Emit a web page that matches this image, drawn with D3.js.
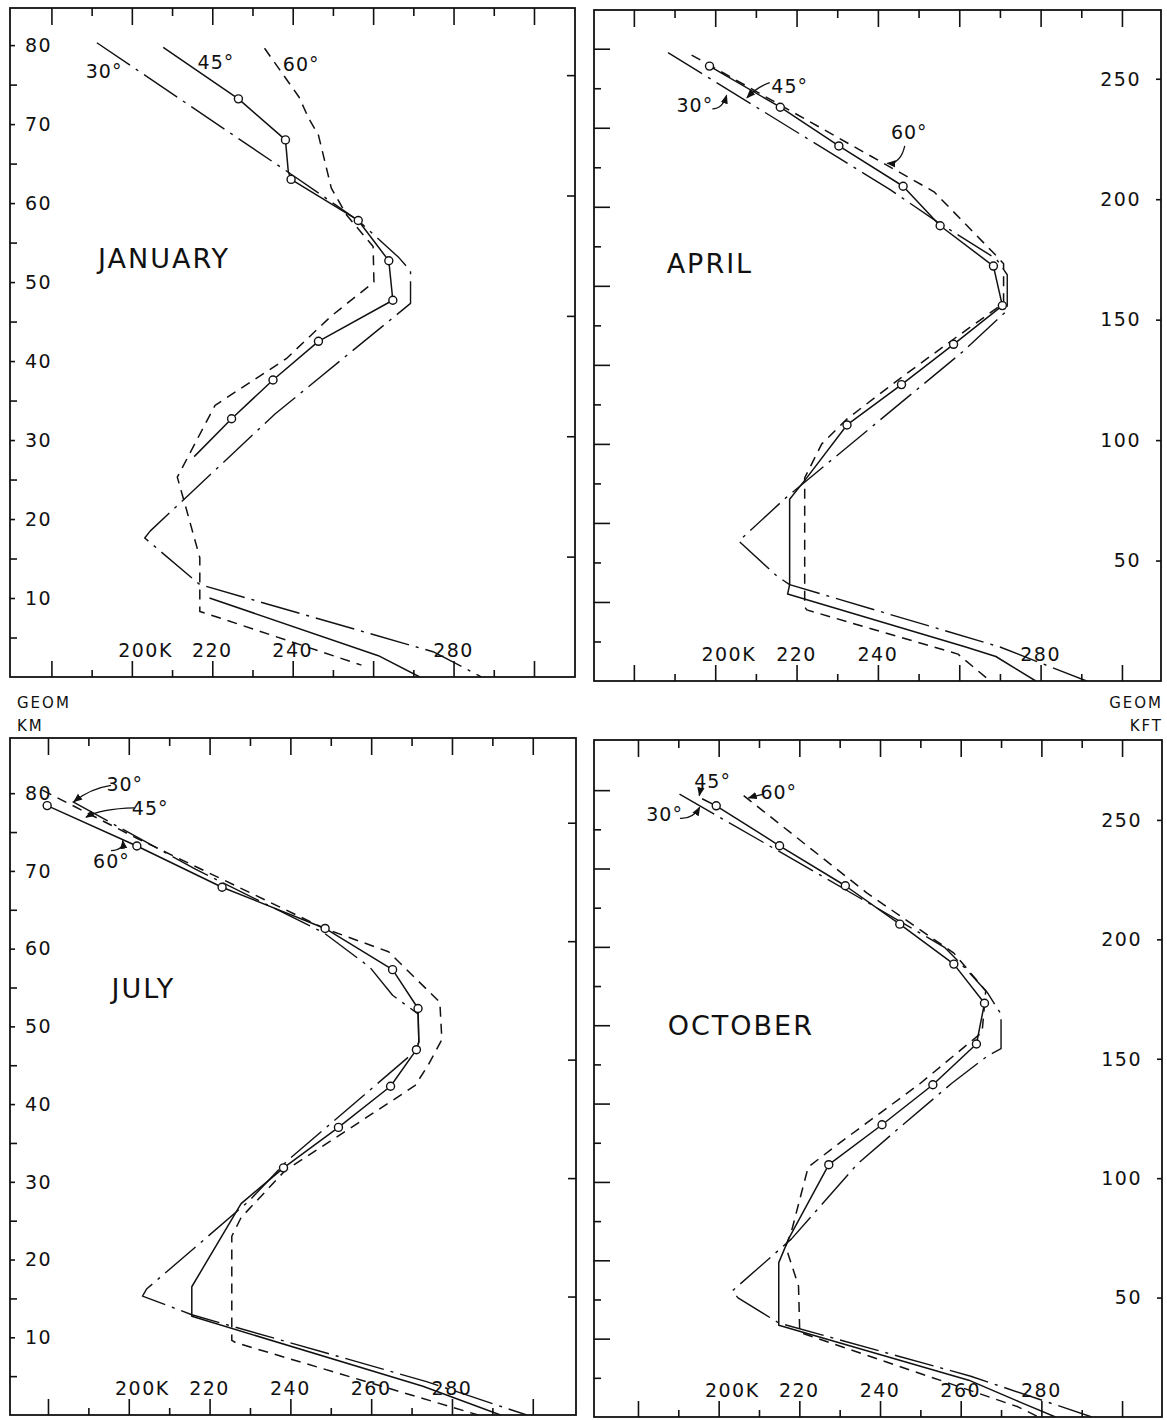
<!DOCTYPE html>
<html>
<head>
<meta charset="utf-8">
<script src="https://cdn.jsdelivr.net/npm/d3@7"></script>
<style>
  body { margin: 0; background: #fff; }
  svg { display: block; }
  text { font-family: "DejaVu Sans", "Liberation Sans", sans-serif; fill: #111; }
</style>
</head>
<body>
<svg id="chart" width="1167" height="1420"></svg>
<script>
// Temperature (K) against geometric altitude (km) for 30, 45 and 60 deg N.
// Each point is [T, km] ; a third value of 1 marks an open circle. null = break in the line.
const jan30 = [[191.3,80.3],[238.9,63.9],[256.3,57.8],[266.4,53.1],[269.3,51.4],[269.3,47.3],[235.6,33.3],[204.6,18.5],[203.2,17.6],[216.9,11.7],[274.9,3.2],[287.0,0]];
const jan45 = [[207.8,79.7],[226.5,73.2,1],[238.2,68.0,1],[238.9,64.0],[239.6,63.0,1],[256.3,57.8,1],[263.9,52.7,1],[264.9,47.7,1],[246.4,42.5,1],[235.1,37.6,1],[224.8,32.7,1],[215.5,27.9],null,[219.3,10.0],[261.3,2.7],[271.6,0]];
const jan60 = [[233.0,79.6],[241.6,73.4],[244.0,70.7],[246.4,68.6],[249.6,61.9],[253.4,58.5],[260.0,54.5],[260.2,50.0],[249.6,45.7],[238.4,40.3],[220.7,34.4],[211.3,25.3],[213.2,21.9],[216.9,15.1],[216.9,8.3],[223.5,7.2],[257.1,1.5]];

const apr30 = [[188.4,79.5],[242.9,62.2],[254.6,58.1],[269.1,53.4],[271.8,51.4],[271.8,46.9],[260.7,41.6],[217.4,23.2],[205.8,17.7],[215.1,13.3],[218.3,12.2],[270.0,4.3],[291.3,0]];
const apr45 = [[198.6,77.8,1],[216.0,72.6,1],[230.4,67.7,1],[246.2,62.6,1],[255.3,57.6,1],[268.4,52.5,1],[270.6,47.5,1],[258.6,42.6,1],[245.8,37.5,1],[232.4,32.4,1],[222.5,25.7],[218.3,23.0],[218.3,12.2],[217.8,11.0],[261.6,4.3],[269.0,3.1],[278.8,0]];
const apr60 = [[194.2,79.2],[253.8,61.9],[269.5,53.6],[270.9,52.8],[270.9,47.8],[259.0,43.4],[245.5,38.3],[232.5,33.2],[226.2,30.0],[222.0,25.7],[222.0,9.4],[222.5,9.0],[259.7,3.4],[267.6,0]];

const jul30 = [[186.1,78.9],[216.6,70.2],[248.4,62.0],[259.7,57.6],[265.3,54.0],[271.6,51.6],[271.8,48.0],[270.9,46.8],[239.0,32.6],[229.7,27.5],[204.4,16.2],[203.4,15.3],[215.6,12.9],[273.7,4.3],[298.5,0]];
const jul45 = [[179.8,78.4,1],[202.0,73.2,1],[223.1,67.9,1],[248.6,62.6,1],[265.3,57.3,1],[271.6,52.3,1],[271.8,48.0],[271.2,47.0,1],[264.8,42.3,1],[251.9,37.0,1],[238.3,31.8,1],[227.8,27.2],[215.6,16.5],[215.6,12.7],[272.8,3.7],[292.0,0]];
const jul60 = [[178.6,80.4],[202.0,74.2],[248.4,62.6],[264.3,59.6],[277.0,53.1],[277.5,48.3],[274.2,45.1],[270.9,42.4],[264.8,40.3],[238.6,31.4],[227.8,25.4],[225.5,23.0],[225.5,9.6],[226.5,9.3],[286.5,0]];

const oct30 = [[190.3,79.5],[234.8,66.3],[256.1,59.9],[262.0,56.8],[266.7,54.1],[270.0,51.4],[270.0,47.0],[266.7,46.1],[257.8,42.6],[245.0,37.0],[234.4,32.3],[218.0,22.7],[203.4,16.1],[204.8,15.2],[214.9,12.0],[262.5,5.2],[292.5,0]];
const oct45 = [[195.9,78.9],[199.4,78.0,1],[215.1,72.9,1],[231.4,67.8,1],[244.9,62.9,1],[258.3,57.8,1],[265.9,52.8,1],[263.9,47.6,1],[253.1,42.4,1],[240.5,37.3,1],[227.3,32.2,1],[217.5,22.9],[214.9,19.7],[214.9,11.7],[262.0,4.7],[274.7,1.9],[283.5,0]];
const oct60 = [[206.2,79.3],[236.7,66.9],[258.3,59.2],[266.2,54.4],[265.3,49.1],[249.8,42.5],[231.1,35.4],[222.2,31.9],[218.0,23.6],[216.6,21.8],[219.8,16.7],[220.1,10.8],[274.2,1.3],[279.3,0]];

// axis ticks and labels
const tempTicks = d3.range(180, 301, 10);
const kmTicks = d3.range(5, 81, 5);
const kmLabels = [10, 20, 30, 40, 50, 60, 70, 80];
const kftTicks = [50, 100, 150, 200, 250];
const janTempLabels = [200, 220, 240, 280];
const aprTempLabels = [200, 220, 240, 280];
const julTempLabels = [200, 220, 240, 260, 280];
const octTempLabels = [200, 220, 240, 260, 280];
const latitudes = ["30°", "45°", "60°"];

const KFT = 0.3048;
const svg = d3.select("#chart");

const defs = svg.append("defs");
defs.append("marker")
  .attr("id", "arrow")
  .attr("viewBox", "0 0 10 10")
  .attr("refX", 9).attr("refY", 5)
  .attr("markerWidth", 7).attr("markerHeight", 7)
  .attr("orient", "auto")
  .append("path").attr("d", "M0,1 L10,5 L0,9 z").attr("fill", "#111");

const panels = [
  { id: "jan", name: "JANUARY", x0: 10, x1: 575, y0: 8, y1: 677, tDomain: [169.7, 310.2], kmTop: 84.7,
    series: [jan30, jan45, jan60], tempLabels: janTempLabels, leftLabels: true,
    nameAt: [208, 53.0],
    latLabels: [{ at: [193.1, 76.7] }, { at: [220.9, 77.8] }, { at: [242.1, 77.6] }] },
  { id: "apr", name: "APRIL", x0: 594, x1: 1161, y0: 10, y1: 681, tDomain: [170.2, 309.6], kmTop: 84.9,
    series: [apr30, apr45, apr60], tempLabels: aprTempLabels, leftLabels: false,
    nameAt: [198.7, 52.9],
    latLabels: [
      { at: [195.0, 72.8], lead: [[199.3, 72.4], [201.8, 72.4], [202.8, 74.1]] },
      { at: [218.3, 75.3], lead: [[213.4, 75.7], [210.4, 75.2], [207.8, 73.8]] },
      { at: [247.7, 69.5], lead: [[246.6, 67.7], [245.6, 65.4], [242.3, 65.5]] }] },
  { id: "jul", name: "JULY", x0: 10, x1: 576, y0: 738, y1: 1415, tDomain: [170.6, 310.7], kmTop: 87.1,
    series: [jul30, jul45, jul60], tempLabels: julTempLabels, leftLabels: true,
    nameAt: [203.6, 54.9],
    latLabels: [
      { at: [199.0, 81.1], lead: [[195.6, 81.0], [190.5, 80.6], [186.4, 78.9]] },
      { at: [205.3, 78.1], lead: [[201.4, 78.1], [193.0, 78.0], [189.4, 76.9]] },
      { at: [195.7, 71.3], lead: [[195.6, 72.6], [198.8, 72.7], [198.5, 73.9]] }] },
  { id: "oct", name: "OCTOBER", x0: 594, x1: 1162, y0: 740, y1: 1417, tDomain: [169.1, 309.9], kmTop: 86.4,
    series: [oct30, oct45, oct60], tempLabels: octTempLabels, leftLabels: false,
    nameAt: [205.5, 50.0],
    latLabels: [
      { at: [186.6, 76.9], lead: [[190.4, 76.4], [193.6, 76.3], [195.3, 77.8]] },
      { at: [198.5, 81.1], lead: [[195.7, 80.3], [195.4, 79.8], [195.2, 79.3]] },
      { at: [214.9, 79.8], lead: [[211.2, 79.5], [209.3, 79.3], [207.4, 79.0]] }] }
];

const lineStyles = [
  { dash: "40,7,3,7", width: 1.4 },   // 30 deg: dash-dot
  { dash: null, width: 1.5 },         // 45 deg: solid with circles
  { dash: "10,7", width: 1.5 }        // 60 deg: dashed
];

function noDomain(g) { g.select(".domain").remove(); }

panels.forEach(p => {
  const x = d3.scaleLinear().domain(p.tDomain).range([p.x0, p.x1]);
  const y = d3.scaleLinear().domain([0, p.kmTop]).range([p.y1, p.y0]);
  const g = svg.append("g").attr("class", "panel-" + p.id);

  g.append("clipPath").attr("id", "clip-" + p.id)
    .append("rect").attr("x", p.x0).attr("y", p.y0)
    .attr("width", p.x1 - p.x0).attr("height", p.y1 - p.y0);

  // frame
  g.append("rect")
    .attr("x", p.x0).attr("y", p.y0)
    .attr("width", p.x1 - p.x0).attr("height", p.y1 - p.y0)
    .attr("fill", "none").attr("stroke", "#111").attr("stroke-width", 1.8);

  const majorT = tempTicks.filter(t => t % 20 === 0);
  const minorT = tempTicks.filter(t => t % 20 !== 0);

  // temperature ticks, top and bottom, pointing inward
  g.append("g").attr("transform", `translate(0,${p.y0})`)
    .call(d3.axisBottom(x).tickValues(majorT).tickSize(17).tickFormat("")).call(noDomain);
  g.append("g").attr("transform", `translate(0,${p.y0})`)
    .call(d3.axisBottom(x).tickValues(minorT).tickSize(8).tickFormat("")).call(noDomain);
  g.append("g").attr("transform", `translate(0,${p.y1})`)
    .call(d3.axisTop(x).tickValues(majorT).tickSize(16).tickFormat("")).call(noDomain);
  g.append("g").attr("transform", `translate(0,${p.y1})`)
    .call(d3.axisTop(x).tickValues(minorT).tickSize(7).tickFormat("")).call(noDomain);

  // km ticks on the left border
  const kmMajor = kmTicks.filter(k => k % 10 === 0);
  const kmMinor = kmTicks.filter(k => k % 10 !== 0);
  g.append("g").attr("transform", `translate(${p.x0},0)`)
    .call(d3.axisRight(y).tickValues(kmMajor).tickSize(p.leftLabels ? 5 : 16).tickFormat("")).call(noDomain);
  g.append("g").attr("transform", `translate(${p.x0},0)`)
    .call(d3.axisRight(y).tickValues(kmMinor).tickSize(7).tickFormat("")).call(noDomain);

  // kft ticks on the right border
  g.append("g").attr("transform", `translate(${p.x1},0)`)
    .call(d3.axisLeft(y).tickValues(kftTicks.map(k => k * KFT)).tickSize(p.leftLabels ? 8 : 5).tickFormat("")).call(noDomain);

  svg.selectAll(".tick line").attr("stroke", "#111").attr("stroke-width", 1.6);

  if (p.leftLabels) {
    g.selectAll("text.km").data(kmLabels).join("text")
      .attr("class", "km")
      .attr("x", p.x0 + 15).attr("y", d => y(d))
      .attr("dy", "0.36em").attr("font-size", 19).attr("letter-spacing", 1.5)
      .text(d => d);
  } else {
    g.selectAll("text.kft").data(kftTicks).join("text")
      .attr("class", "kft")
      .attr("x", p.x1 - 20).attr("y", d => y(d * KFT))
      .attr("text-anchor", "end")
      .attr("dy", "0.36em").attr("font-size", 19).attr("letter-spacing", 1.5)
      .text(d => d);
  }

  // temperature labels inside the bottom of the frame
  g.selectAll("text.temp").data(p.tempLabels).join("text")
    .attr("class", "temp")
    .attr("x", d => d === 200 ? x(196.6) : x(d))
    .attr("y", p.y1 - 27)
    .attr("text-anchor", d => d === 200 ? "start" : "middle")
    .attr("dy", "0.36em").attr("font-size", 19).attr("letter-spacing", 1.5)
    .text(d => d === 200 ? "200K" : d);

  // profiles
  const line = d3.line().defined(d => d !== null).x(d => x(d[0])).y(d => y(d[1]));
  const lines = g.append("g").attr("clip-path", `url(#clip-${p.id})`);
  p.series.forEach((s, i) => {
    lines.append("path")
      .datum(s)
      .attr("d", line)
      .attr("fill", "none")
      .attr("stroke", "#111")
      .attr("stroke-width", lineStyles[i].width)
      .attr("stroke-linejoin", "round")
      .attr("stroke-dasharray", lineStyles[i].dash);
  });
  lines.selectAll("circle")
    .data(p.series[1].filter(d => d && d[2]))
    .join("circle")
    .attr("cx", d => x(d[0])).attr("cy", d => y(d[1]))
    .attr("r", 4)
    .attr("fill", "#fff").attr("stroke", "#111").attr("stroke-width", 1.4);

  // latitude labels and leaders
  p.latLabels.forEach((l, i) => {
    g.append("text")
      .attr("x", x(l.at[0])).attr("y", y(l.at[1]))
      .attr("text-anchor", "middle").attr("dy", "0.36em")
      .attr("font-size", 19).attr("letter-spacing", 1)
      .text(latitudes[i]);
    if (l.lead) {
      const [a, c, b] = l.lead;
      g.append("path")
        .attr("d", `M${x(a[0])},${y(a[1])} Q${x(c[0])},${y(c[1])} ${x(b[0])},${y(b[1])}`)
        .attr("fill", "none").attr("stroke", "#111").attr("stroke-width", 1.3)
        .attr("marker-end", "url(#arrow)");
    }
  });

  // month name
  g.append("text")
    .attr("x", x(p.nameAt[0])).attr("y", y(p.nameAt[1]))
    .attr("text-anchor", "middle").attr("dy", "0.36em")
    .attr("font-size", 27).attr("letter-spacing", 2)
    .text(p.name);
});

// unit captions between the rows
const captions = [
  { lines: ["GEOM", "KM"], x: 17, anchor: "start" },
  { lines: ["GEOM", "KFT"], x: 1163, anchor: "end" }
];
captions.forEach(c => {
  c.lines.forEach((t, i) => {
    svg.append("text")
      .attr("x", c.x).attr("y", 703 + i * 23)
      .attr("text-anchor", c.anchor).attr("dy", "0.36em")
      .attr("font-size", 15).attr("letter-spacing", 2)
      .text(t);
  });
});
</script>
</body>
</html>
